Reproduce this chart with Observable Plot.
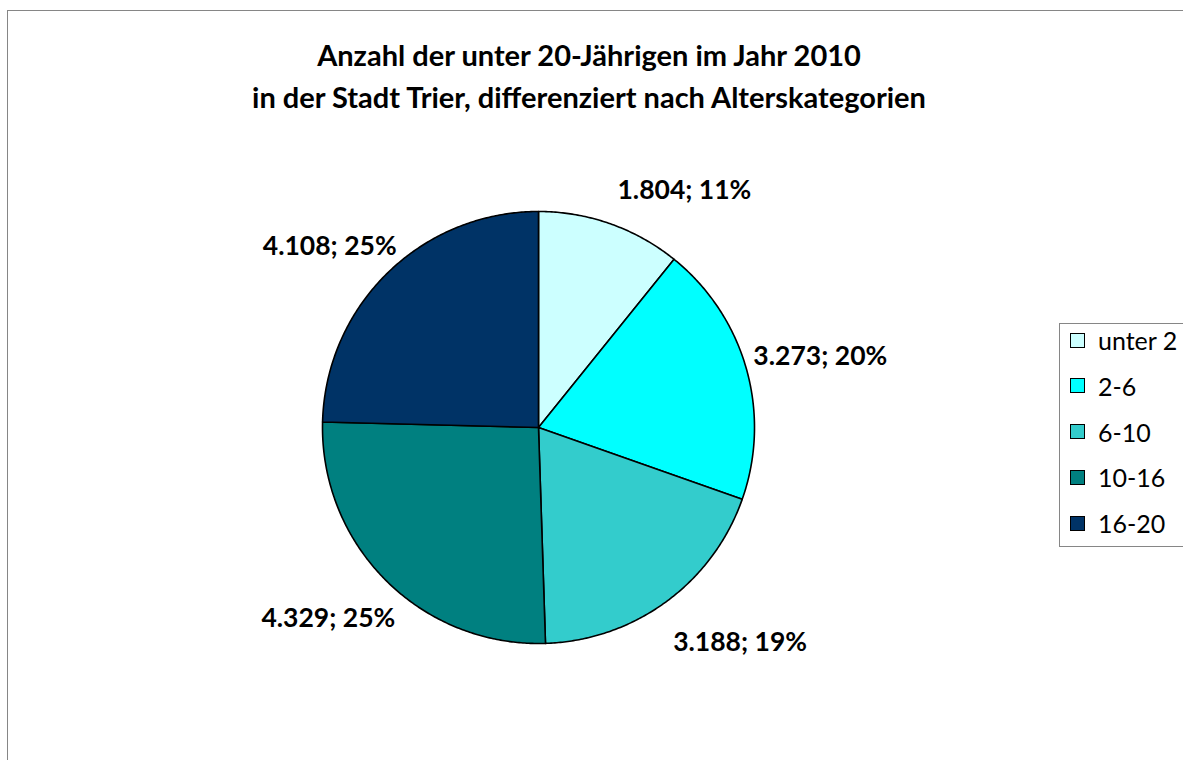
<!DOCTYPE html>
<html>
<head>
<meta charset="utf-8">
<script src="https://cdn.jsdelivr.net/npm/d3@7"></script>
<script src="https://cdn.jsdelivr.net/npm/@observablehq/plot@0.6"></script>
<style>
  html, body { margin: 0; padding: 0; background: #fff; overflow: hidden; width: 1183px; height: 760px; }
  #wrap { position: relative; width: 1183px; height: 760px; overflow: hidden; }
  #frame { position: absolute; left: 7px; top: 10px; width: 1500px; height: 1000px; border-left: 1px solid #868686; border-top: 1px solid #868686; box-sizing: border-box; pointer-events: none; }
  #title { height: 117px; box-sizing: border-box; padding-top: 34px; width: 1178px;
           font-family: Lato, "Noto Sans", sans-serif; font-weight: 700; font-size: 29px; line-height: 42px;
           text-align: center; color: #000; }
  #legend { position: absolute; left: 1059px; top: 323px; width: 220px; height: 224px; border: 1px solid #868686;
            box-sizing: border-box; background: #fff; font-family: Lato, "Noto Sans", sans-serif; font-size: 25px; color: #000; }
  .lrow { position: absolute; left: 0; height: 30px; display: flex; align-items: center; white-space: nowrap; }
  .lsw { width: 15px; height: 15px; border: 1px solid #000; box-sizing: border-box; margin-left: 10px; margin-right: 13px; }
</style>
</head>
<body>
<div id="wrap">
  <div id="title"></div>
  <div id="chart"></div>
  <div id="legend"></div>
  <div id="frame"></div>
</div>
<script>
// ---- data ----
const categories = ["unter 2", "2-6", "6-10", "10-16", "16-20"];
const values = [1804, 3273, 3188, 4329, 4108];
const percentLabels = [11, 20, 19, 25, 25];
const colors = ["#CCFFFF", "#00FFFF", "#33CCCC", "#008080", "#003366"];
const titleLines = [
  "Anzahl der unter 20-Jährigen im Jahr 2010",
  "in der Stadt Trier, differenziert nach Alterskategorien"
];

// ---- title ----
document.getElementById("title").innerHTML = titleLines.map(t => `<div>${t}</div>`).join("");

// ---- pie geometry (unit radius, angles clockwise from north) ----
const W = 1183, H = 643;
const R = 216, CX = 538, CY = 310; // pie centre & radius in svg pixels
const pie = d3.pie().sort(null).value(d => d)(values);

const fmt = v => d3.format(",")(v).replace(/,/g, ".");

const slicePts = [];
pie.forEach((p, i) => {
  const a0 = p.startAngle, a1 = p.endAngle;
  const n = Math.max(2, Math.ceil((a1 - a0) / (Math.PI / 360)));
  slicePts.push({cat: categories[i], x: 0, y: 0});
  for (let k = 0; k <= n; k++) {
    const a = a0 + (a1 - a0) * k / n;
    slicePts.push({cat: categories[i], x: Math.sin(a), y: Math.cos(a)});
  }
});

// label placement rule (outside end): label box just beyond the rim at mid-angle
const halfW = 66 / R, halfH = 10 / R;
const labels = pie.map((p, i) => {
  const a = (p.startAngle + p.endAngle) / 2;
  const s = Math.sin(a), c = Math.cos(a);
  return {
    text: `${fmt(values[i])}; ${percentLabels[i]}%`,
    x: s + Math.sign(s) * halfW + 8 / R,
    y: c * (1 + 31 / R) + Math.sign(c) * halfH - 6 / R
  };
});

const chart = Plot.plot({
  width: W, height: H,
  margin: 0,
  x: {domain: [-CX / R, (W - CX) / R], axis: null},
  y: {domain: [-(H - CY) / R, CY / R], axis: null},
  color: {domain: categories, range: colors},
  style: {background: "transparent", overflow: "visible"},
  marks: [
    Plot.line(slicePts, {x: "x", y: "y", z: "cat", fill: "cat", stroke: "#000", strokeWidth: 1.6, curve: "linear-closed", strokeLinejoin: "round"}),
    Plot.text(labels, {x: "x", y: "y", text: "text", fontSize: 26.5, fontWeight: "bold", fontFamily: "Lato, 'Noto Sans', sans-serif", fill: "#000"})
  ]
});
document.getElementById("chart").appendChild(chart);

// ---- legend ----
const legend = document.getElementById("legend");
categories.forEach((c, i) => {
  const row = document.createElement("div");
  row.className = "lrow";
  row.style.top = (17 + 45.75 * i - 15 - 1) + "px";
  row.innerHTML = `<span class="lsw" style="background:${colors[i]}"></span><span>${c}</span>`;
  legend.appendChild(row);
});
</script>
</body>
</html>
